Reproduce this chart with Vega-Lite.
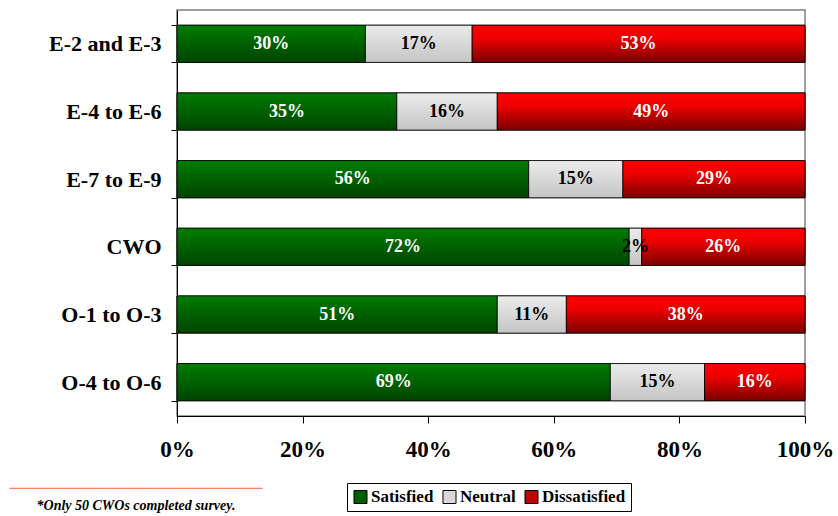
{
  "$schema": "https://vega.github.io/schema/vega-lite/v6.json",
  "width": 628,
  "height": 406,
  "autosize": {"type": "none"},
  "padding": {"left": 177, "top": 10, "right": 33, "bottom": 100},
  "background": "white",
  "config": {"view": {"stroke": "#808080", "strokeWidth": 1.5}, "font": "Liberation Serif"},
  "title": {
    "text": "──────────────────────────────",
    "subtitle": "*Only 50 CWOs completed survey.",
    "orient": "bottom",
    "anchor": "middle",
    "frame": "group",
    "dx": -355,
    "offset": -30,
    "font": "DejaVu Sans Mono",
    "fontSize": 14,
    "fontWeight": "normal",
    "color": "#FF8060",
    "subtitleFont": "Liberation Serif",
    "subtitleFontSize": 14,
    "subtitleFontWeight": "bold",
    "subtitleFontStyle": "italic",
    "subtitleColor": "black",
    "subtitlePadding": 3
  },
  "data": {
    "values": [
      {"group": "E-2 and E-3", "response": "Satisfied", "pct": 30, "order": 1},
      {"group": "E-2 and E-3", "response": "Neutral", "pct": 17, "order": 2},
      {"group": "E-2 and E-3", "response": "Dissatisfied", "pct": 53, "order": 3},
      {"group": "E-4 to E-6", "response": "Satisfied", "pct": 35, "order": 1},
      {"group": "E-4 to E-6", "response": "Neutral", "pct": 16, "order": 2},
      {"group": "E-4 to E-6", "response": "Dissatisfied", "pct": 49, "order": 3},
      {"group": "E-7 to E-9", "response": "Satisfied", "pct": 56, "order": 1},
      {"group": "E-7 to E-9", "response": "Neutral", "pct": 15, "order": 2},
      {"group": "E-7 to E-9", "response": "Dissatisfied", "pct": 29, "order": 3},
      {"group": "CWO", "response": "Satisfied", "pct": 72, "order": 1},
      {"group": "CWO", "response": "Neutral", "pct": 2, "order": 2},
      {"group": "CWO", "response": "Dissatisfied", "pct": 26, "order": 3},
      {"group": "O-1 to O-3", "response": "Satisfied", "pct": 51, "order": 1},
      {"group": "O-1 to O-3", "response": "Neutral", "pct": 11, "order": 2},
      {"group": "O-1 to O-3", "response": "Dissatisfied", "pct": 38, "order": 3},
      {"group": "O-4 to O-6", "response": "Satisfied", "pct": 69, "order": 1},
      {"group": "O-4 to O-6", "response": "Neutral", "pct": 15, "order": 2},
      {"group": "O-4 to O-6", "response": "Dissatisfied", "pct": 16, "order": 3}
    ]
  },
  "transform": [
    {"stack": "pct", "groupby": ["group"], "sort": [{"field": "order"}], "as": ["x0", "x1"]},
    {"calculate": "(datum.x0 + datum.x1) / 2", "as": "mid"},
    {"calculate": "datum.pct + '%'", "as": "label"}
  ],
  "encoding": {
    "y": {
      "field": "group",
      "type": "nominal",
      "sort": ["E-2 and E-3", "E-4 to E-6", "E-7 to E-9", "CWO", "O-1 to O-3", "O-4 to O-6"],
      "scale": {"paddingInner": 0.45, "paddingOuter": 0.225},
      "axis": {
        "title": null,
        "labelFont": "Liberation Serif",
        "labelFontSize": 22,
        "labelFontWeight": "bold",
        "labelColor": "black",
        "labelPadding": 10,
        "domainColor": "black",
        "tickColor": "black",
        "tickSize": 6,
        "tickBand": "extent"
      }
    }
  },
  "layer": [
    {
      "mark": {"type": "bar", "stroke": "black", "strokeWidth": 0.8},
      "encoding": {
        "x": {
          "field": "x0",
          "type": "quantitative",
          "scale": {"domain": [0, 100], "nice": false},
          "axis": {
            "title": null,
            "values": [0, 20, 40, 60, 80, 100],
            "labelExpr": "datum.value + '%'",
            "labelFlush": false,
            "grid": false,
            "labelFont": "Liberation Serif",
            "labelFontSize": 23,
            "labelFontWeight": "bold",
            "labelColor": "black",
            "labelPadding": 15,
            "domainColor": "black",
            "tickColor": "black",
            "tickSize": 7
          }
        },
        "x2": {"field": "x1"},
        "color": {
          "field": "response",
          "type": "nominal",
          "scale": {"domain": ["Satisfied", "Neutral", "Dissatisfied"], "range": ["#006000", "#d8d8d8", "#c00000"]},
          "legend": {
            "title": null,
            "orient": "none",
            "legendX": 170,
            "legendY": 473,
            "direction": "horizontal",
            "strokeColor": "black",
            "padding": 5,
            "symbolType": "square",
            "symbolSize": 170,
            "symbolStrokeColor": "black",
            "symbolStrokeWidth": 1,
            "symbolOffset": 0,
            "labelFont": "Liberation Serif",
            "labelFontSize": 17,
            "labelFontWeight": "bold",
            "labelColor": "black",
            "labelOffset": 2,
            "columnPadding": 6
          }
        }
      }
    },
    {
      "transform": [{"filter": "datum.response === 'Satisfied'"}],
      "mark": {
        "type": "bar", "stroke": "black", "strokeWidth": 0.8,
        "color": {"gradient": "linear", "x1": 0, "y1": 0, "x2": 0, "y2": 1,
          "stops": [{"offset": 0, "color": "#007c00"}, {"offset": 1, "color": "#004400"}]}
      },
      "encoding": {"x": {"field": "x0", "type": "quantitative"}, "x2": {"field": "x1"}}
    },
    {
      "transform": [{"filter": "datum.response === 'Neutral'"}],
      "mark": {
        "type": "bar", "stroke": "black", "strokeWidth": 0.8,
        "color": {"gradient": "linear", "x1": 0, "y1": 0, "x2": 0, "y2": 1,
          "stops": [{"offset": 0, "color": "#ececec"}, {"offset": 1, "color": "#c4c4c4"}]}
      },
      "encoding": {"x": {"field": "x0", "type": "quantitative"}, "x2": {"field": "x1"}}
    },
    {
      "transform": [{"filter": "datum.response === 'Dissatisfied'"}],
      "mark": {
        "type": "bar", "stroke": "black", "strokeWidth": 0.8,
        "color": {"gradient": "linear", "x1": 0, "y1": 0, "x2": 0, "y2": 1,
          "stops": [{"offset": 0, "color": "#ff0000"}, {"offset": 0.35, "color": "#ee0000"}, {"offset": 1, "color": "#7a0000"}]}
      },
      "encoding": {"x": {"field": "x0", "type": "quantitative"}, "x2": {"field": "x1"}}
    },
    {
      "mark": {"type": "text", "font": "Liberation Serif", "fontSize": 18, "fontWeight": "bold", "baseline": "middle", "align": "center"},
      "encoding": {
        "x": {"field": "mid", "type": "quantitative"},
        "text": {"field": "label", "type": "nominal"},
        "color": {"condition": {"test": "datum.response === 'Neutral'", "value": "black"}, "value": "white"}
      }
    }
  ]
}
